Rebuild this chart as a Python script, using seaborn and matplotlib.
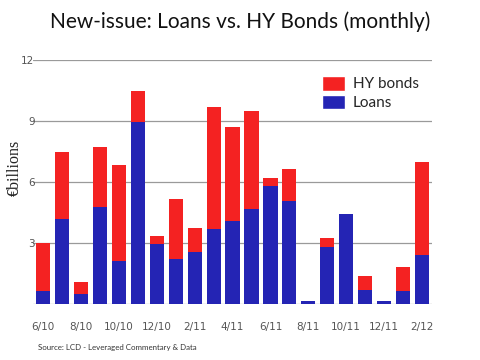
import matplotlib
matplotlib.use("Agg")
import matplotlib.pyplot as plt
import seaborn as sns
import pandas as pd
from matplotlib.patches import Patch

months = ["6/10", "7/10", "8/10", "9/10", "10/10", "11/10", "12/10", "1/11", "2/11",
          "3/11", "4/11", "5/11", "6/11", "7/11", "8/11", "9/11", "10/11", "11/11",
          "12/11", "1/12", "2/12"]
loans = [0.65, 4.15, 0.5, 4.75, 2.1, 8.95, 2.95, 2.2, 2.55, 3.7, 4.05, 4.65,
         5.8, 5.05, 0.15, 2.8, 4.4, 0.7, 0.15, 0.62, 2.4]
hy_bonds = [2.35, 3.3, 0.55, 2.95, 4.75, 1.5, 0.4, 2.95, 1.2, 6.0, 4.65, 4.85,
            0.4, 1.6, 0.0, 0.45, 0.0, 0.65, 0.0, 1.2, 4.55]
shown_ticks = ["6/10", "8/10", "10/10", "12/10", "2/11", "4/11", "6/11", "8/11",
               "10/11", "12/11", "2/12"]

red = "#f42222"
blue = "#2424b4"

df = pd.DataFrame({"month": months, "loans": loans, "hy": hy_bonds})
df["total"] = df["loans"] + df["hy"]

sns.set_style("white")

fig = plt.figure(figsize=(4.8, 3.6), dpi=100)
ax = fig.add_axes([0.069, 0.156, 0.831, 0.678])

sns.barplot(data=df, x="month", y="total", color=red, width=0.75,
            saturation=1, linewidth=0, ax=ax, zorder=3)
sns.barplot(data=df, x="month", y="loans", color=blue, width=0.75,
            saturation=1, linewidth=0, ax=ax, zorder=3)

ax.set_ylim(0, 12)
ax.set_xlim(-0.53, len(months) - 0.47)
ax.set_yticks([0, 3, 6, 9, 12])
ax.set_yticklabels(["", "3", "6", "9", "12"])
ax.yaxis.grid(True, color="#9a9a9a", linewidth=0.9, zorder=0)
ax.set_axisbelow(True)
pos = [months.index(m) for m in shown_ticks]
ax.set_xticks(pos)
ax.set_xticklabels(shown_ticks)
ax.tick_params(axis="both", length=0, labelsize=7.5, colors="#555555")
ax.tick_params(axis="y", pad=-1)
ax.tick_params(axis="x", pad=13)
for s in ax.spines.values():
    s.set_visible(False)
ax.set_xlabel("")
ax.set_ylabel("")

fig.text(0.031, 0.535, "€billions", rotation=90, ha="center", va="center",
         family="Liberation Serif", fontsize=11.5, color="#222222")

fig.text(0.5, 0.94, "New-issue: Loans vs. HY Bonds (monthly)", ha="center",
         va="center", fontsize=15, family="Lato", color="#111111")

handles = [Patch(facecolor=red, label="HY bonds"), Patch(facecolor=blue, label="Loans")]
ax.legend(handles=handles, loc="upper left", bbox_to_anchor=(0.69, 0.99),
          frameon=False, prop={"family": "Lato", "size": 11},
          handlelength=1.5, handleheight=1.1, handletextpad=0.5, labelspacing=0.2)

fig.text(0.08, 0.035, "Source: LCD - Leveraged Commentary & Data", fontsize=5.7,
         family="Lato", color="#333333", va="center")

fig.savefig("out.png", dpi=100)
